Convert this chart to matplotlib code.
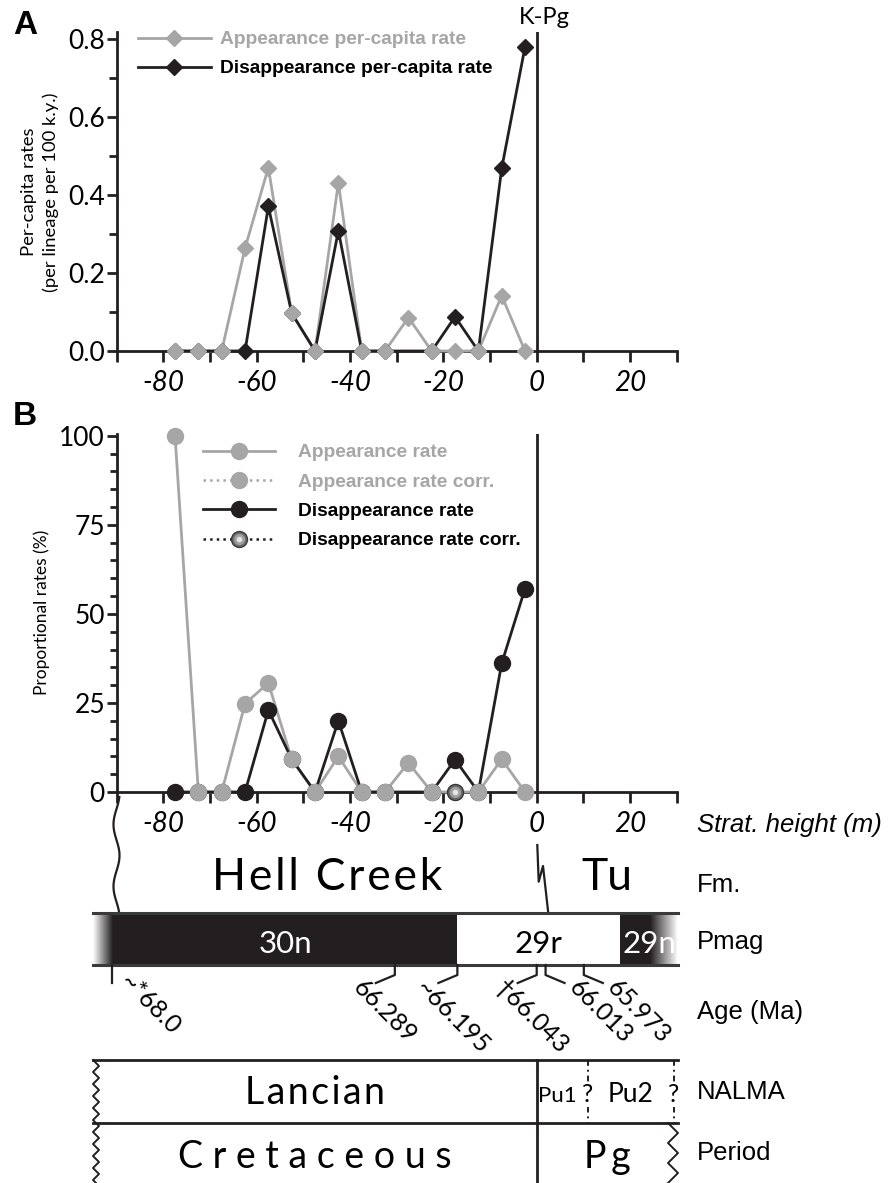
import numpy as np
import matplotlib
matplotlib.use('Agg')
import matplotlib.pyplot as plt
from matplotlib.ticker import MultipleLocator
from matplotlib.patches import Rectangle
from matplotlib.colors import LinearSegmentedColormap
from matplotlib.legend_handler import HandlerTuple

plt.rcParams['axes.unicode_minus'] = False

# bin midpoints, stratigraphic height (m) below the K-Pg boundary
heights = [-77.5, -72.5, -67.5, -62.5, -57.5, -52.5, -47.5, -42.5,
           -37.5, -32.5, -27.5, -22.5, -17.5, -12.5, -7.5, -2.5]
# disappearance series has no value in the -27.5 m bin
dis_heights = [-77.5, -72.5, -67.5, -62.5, -57.5, -52.5, -47.5, -42.5,
               -37.5, -32.5, -22.5, -17.5, -12.5, -7.5, -2.5]

# per-capita rates (per lineage per 100 k.y.)
app_pc = [0, 0, 0, 0.264, 0.471, 0.097, 0, 0.432, 0, 0, 0.086, 0, 0, 0, 0.142, 0]
dis_pc = [0, 0, 0, 0, 0.371, 0.097, 0, 0.309, 0, 0, 0, 0.088, 0, 0.469, 0.781]

# proportional rates (%)
app_prop = [100, 0, 0, 24.8, 30.6, 9.2, 0, 10.0, 0, 0, 8.2, 0, 0, 0, 9.2, 0]
dis_prop = [0, 0, 0, 0, 23.0, 9.2, 0, 20.0, 0, 0, 0, 9.1, 0, 36.1, 57.1]
app_corr_h, app_corr = [], []
dis_corr_h, dis_corr = [-17.5], [0]

# stratigraphic column
fm_names = ['Hell Creek', 'Tu']
fm_bounds = [(-90, 0), (0, 30)]
pmag_names = ['30n', '29r', '29n']
pmag_edges = [-90.8, -17.0, 17.85, 30.3]
age_labels = ['~*68.0', '66.289', '~66.195', '\u202066.043', '66.013', '65.973']
age_heights = [-90.9, -30.4, -17.0, 0.0, 1.9, 10.1]
age_lean = [0, -1, -1, -1, 1, 1]
nalma_names = ['Lancian', 'Pu1', 'Pu2']
nalma_bounds = [(-95.1, 0), (0, 11), (11, 29.4)]
period_names = ['Cretaceous', 'Pg']
period_bounds = [(-95.1, 0), (0, 30.3)]
row_names = ['Strat. height (m)', 'Fm.', 'Pmag', 'Age (Ma)', 'NALMA', 'Period']

grey = '#a6a6a6'
ink = '#231f20'
body = ['Lato', 'DejaVu Sans']
arial = ['Liberation Sans', 'DejaVu Sans']
plt.rcParams['font.family'] = body

W, H = 890, 1183
X0, PPU = 536.7, 560 / 120.0   # pixel of 0 m, pixels per metre


def box(l, t, r, b):
    return [l / W, 1 - b / H, (r - l) / W, (b - t) / H]


def ftext(x, y, s, **kw):
    return fig.text(x / W, 1 - y / H, s, **kw)


def px2m(px):
    return (np.asarray(px, dtype=float) - X0) / PPU


fig = plt.figure(figsize=(W / 100, H / 100), dpi=100)
axL = fig.add_axes(box(0, 785, W, H))
axA = fig.add_axes(box(116.7, 32, 676.7, 351))
axB = fig.add_axes(box(116.7, 434, 676.7, 792))

for ax in (axA, axB):
    ax.set_xlim(-90, 30)
    ax.spines['top'].set_visible(False)
    ax.spines['right'].set_visible(False)
    for s in ('left', 'bottom'):
        ax.spines[s].set_linewidth(2)
        ax.spines[s].set_color(ink)
    ax.set_xticks(range(-80, 21, 20))
    ax.set_xticklabels([str(v) for v in range(-80, 21, 20)], fontstyle='italic')
    ax.xaxis.set_minor_locator(MultipleLocator(10))
    ax.tick_params(which='both', direction='out', width=2, color=ink, labelsize=19)
    ax.tick_params(axis='x', which='both', length=8, pad=6, labelsize=20)
    ax.tick_params(axis='y', which='major', length=7.5, pad=1)
    ax.tick_params(axis='y', which='minor', length=6)
    ax.axvline(0, color=ink, lw=2, zorder=3)
    ax.patch.set_visible(False)

# ---- panel A ----
axA.set_ylim(0, 0.819)
axA.yaxis.set_major_locator(MultipleLocator(0.2))
axA.yaxis.set_minor_locator(MultipleLocator(0.1))
axA.yaxis.set_major_formatter(lambda v, p: f'{v:.1f}')
gA, = axA.plot(heights, app_pc, color=grey, lw=2, zorder=4, clip_on=False)
kA, = axA.plot(dis_heights, dis_pc, color=ink, lw=2, marker='D', ms=8, mec=ink,
               zorder=5, clip_on=False)
gAm, = axA.plot(heights, app_pc, ls='none', marker='D', ms=8, color=grey,
                zorder=6, clip_on=False)
legA = axA.legend([(gA, gAm), kA],
                  ['Appearance per-capita rate', 'Disappearance per-capita rate'],
                  handler_map={tuple: HandlerTuple(ndivide=1, pad=0)},
                  loc='upper left', bbox_to_anchor=(138 / W, 1 - 31 / H),
                  bbox_transform=fig.transFigure, frameon=False, numpoints=1,
                  prop={'family': arial, 'weight': 'bold', 'size': 13.8},
                  handlelength=3.8, handletextpad=0.47, labelspacing=0.6,
                  borderpad=0, borderaxespad=0)
for t, c in zip(legA.get_texts(), [grey, 'black']):
    t.set_color(c)

# ---- panel B ----
axB.set_ylim(0, 100.5)
axB.yaxis.set_major_locator(MultipleLocator(25))
axB.yaxis.set_minor_locator(MultipleLocator(5))
axB.tick_params(axis='y', which='minor', length=5)
gB, = axB.plot(heights, app_prop, color=grey, lw=2, zorder=4, clip_on=False)
kB, = axB.plot(dis_heights, dis_prop, color=ink, lw=2, marker='o', ms=11.5, mec=ink,
               zorder=5, clip_on=False)
gBm, = axB.plot(heights, app_prop, ls='none', marker='o', ms=11.5, color=grey,
                zorder=6, clip_on=False)
gBc, = axB.plot(app_corr_h, app_corr, color=grey, ls=':', lw=1.8, marker='o',
                ms=11.5, zorder=6, clip_on=False)
kBc1, = axB.plot(dis_corr_h, dis_corr, color=ink, ls=':', lw=1.8, marker='o',
                 ms=11.5, mfc='#6b6b6b', mec='#3a3a3a', mew=1, zorder=7, clip_on=False)
kBc2, = axB.plot(dis_corr_h, dis_corr, ls='none', marker='o', ms=8,
                 mfc='#a0a0a0', mec='none', zorder=8, clip_on=False)
kBc3, = axB.plot(dis_corr_h, dis_corr, ls='none', marker='o', ms=4,
                 mfc='#e6e6e6', mec='none', zorder=9, clip_on=False)
legB = axB.legend([(gB, gBm), gBc, kB, (kBc1, kBc2, kBc3)],
                  ['Appearance rate', 'Appearance rate corr.',
                   'Disappearance rate', 'Disappearance rate corr.'],
                  handler_map={tuple: HandlerTuple(ndivide=1, pad=0)},
                  loc='upper left', bbox_to_anchor=(203 / W, 1 - 444 / H),
                  bbox_transform=fig.transFigure, frameon=False, numpoints=1,
                  prop={'family': arial, 'weight': 'bold', 'size': 13.8},
                  handlelength=3.75, handletextpad=1.2, labelspacing=0.62,
                  borderpad=0, borderaxespad=0)
for t, c in zip(legB.get_texts(), [grey, grey, 'black', 'black']):
    t.set_color(c)

# panel letters and axis titles
ftext(25, 25, 'A', family=arial, weight='bold', fontsize=24, ha='center', va='center')
ftext(25, 416, 'B', family=arial, weight='bold', fontsize=24, ha='center', va='center')
ftext(544, 18, 'K-Pg', fontsize=17, ha='center', va='center')
ftext(40, 192, 'Per-capita rates\n(per lineage per 100 k.y.)', fontsize=13.3,
      rotation=90, ha='center', va='center', linespacing=1.35)
ftext(42, 612, 'Proportional rates (%)', fontsize=12.5, rotation=90,
      ha='center', va='center')

# ---- stratigraphic column ----
axL.set_xlim(px2m(0), px2m(W))
axL.set_ylim(H, 785)
axL.axis('off')
lw_col = 1.6


def spaced(s, gap):
    return gap.join(s)


# wavy base of the section
yy = np.linspace(797, 913, 120)
axL.plot(px2m(116.5 + 3 * np.sin(2 * np.pi * (yy - 840) / 62)), yy, color=ink, lw=lw_col)
# Hell Creek / Tullock contact
axL.plot(px2m([537.3, 538.7, 543, 548.3]), [845, 881.7, 866, 913.3], color=ink, lw=lw_col)

for name, (lo, hi) in zip(fm_names, fm_bounds):
    axL.text((lo + hi) / 2, 890, spaced(name, '\u200a') if name != 'Tu' else name,
             ha='center', va='baseline', fontsize=32, color='black')

# polarity chrons
fade_cmap = LinearSegmentedColormap.from_list('fade', ['white', ink])
grad = np.linspace(0, 1, 64)[None, :]
pm_top, pm_bot = 913, 965
x_left_fade = px2m(X0 + PPU * pmag_edges[0] - 20)
axL.imshow(grad, cmap=fade_cmap, extent=[x_left_fade, pmag_edges[0], pm_bot, pm_top],
           aspect='auto', zorder=1)
right_fade = 28 / PPU
for i, name in enumerate(pmag_names):
    lo, hi = pmag_edges[i], pmag_edges[i + 1]
    dark = name.endswith('n')
    end = hi - right_fade if i == len(pmag_names) - 1 else hi
    axL.add_patch(Rectangle((lo, pm_top), end - lo, pm_bot - pm_top,
                            fc=ink if dark else 'white', ec='none', zorder=1))
    axL.text((lo + hi) / 2, 953, name, ha='center', va='baseline', fontsize=22.5,
             color='white' if dark else 'black', zorder=3)
axL.imshow(grad[:, ::-1], cmap=fade_cmap,
           extent=[pmag_edges[-1] - right_fade, pmag_edges[-1], pm_bot, pm_top],
           aspect='auto', zorder=1)
for yb in (pm_top, pm_bot):
    axL.plot(px2m([93, 678]), [yb, yb], color='#3a3a3a', lw=2.2, zorder=2)

# age tie points
for h, lab, lean in zip(age_heights, age_labels, age_lean):
    xp = X0 + PPU * h
    if lean == 0:
        axL.plot([h, h], [pm_bot, 983], color=ink, lw=lw_col)
        ax_, ay_ = xp + 6, 983
    else:
        axL.plot(px2m([xp, xp, xp + 19 * lean]), [pm_bot, 975, 983], color=ink, lw=lw_col)
        ax_ = xp + 19 * lean + (-24 if lean < 0 else 3)
        ay_ = 989
    axL.text(px2m(ax_), ay_, lab, rotation=-45, rotation_mode='anchor',
             ha='left', va='baseline', fontsize=18, color='black')

# NALMA and period rows
for yb in (1060, 1123):
    axL.plot(px2m([93, 678]), [yb, yb], color=ink, lw=2)
axL.plot([0, 0], [1060, H], color=ink, lw=2)
for name, (lo, hi) in zip(nalma_names, nalma_bounds):
    size = 27 if name == 'Lancian' else (16 if name == 'Pu1' else 19)
    label = spaced(name, '\u200a') if name == 'Lancian' else name
    xc = (lo + hi) / 2 - (1.0 if name == 'Pu1' else 0)
    axL.text(xc, 1104 if name == 'Lancian' else 1102, label,
             ha='center', va='baseline', fontsize=size, color='black')
for xb in (nalma_bounds[1][1], nalma_bounds[2][1]):
    axL.plot([xb, xb], [1060, 1123], color=ink, lw=1.4, ls=(0, (3, 2, 1, 2)))
    axL.text(xb, 1102, '?', ha='center', va='baseline', fontsize=18, color='black',
             bbox=dict(fc='white', ec='none', pad=0.3))
for name, (lo, hi) in zip(period_names, period_bounds):
    label = spaced(name, ' ') if name == 'Cretaceous' else spaced(name, '\u2009')
    axL.text((lo + hi) / 2, 1168, label, ha='center', va='baseline', fontsize=27,
             color='black')

# broken edges of the NALMA/period boxes
yz = np.arange(1060, H + 6, 6.0)
xz = 93 + 6 * (np.arange(len(yz)) % 2)
axL.plot(px2m(xz), yz, color=ink, lw=1.4)
yz2 = np.arange(1123, H + 10, 10.0)
xz2 = 673 + np.where(np.arange(len(yz2)) % 2 == 0, -5, 5)
axL.plot(px2m(xz2), yz2, color=ink, lw=1.4)

# row titles
row_y = [825, 885, 942, 1012, 1092, 1153]
for name, yv in zip(row_names, row_y):
    ftext(697, yv, name, family=arial, fontsize=18.5, va='center', ha='left',
          style='italic' if name.startswith('Strat') else 'normal')

fig.savefig('out.png', dpi=100)
